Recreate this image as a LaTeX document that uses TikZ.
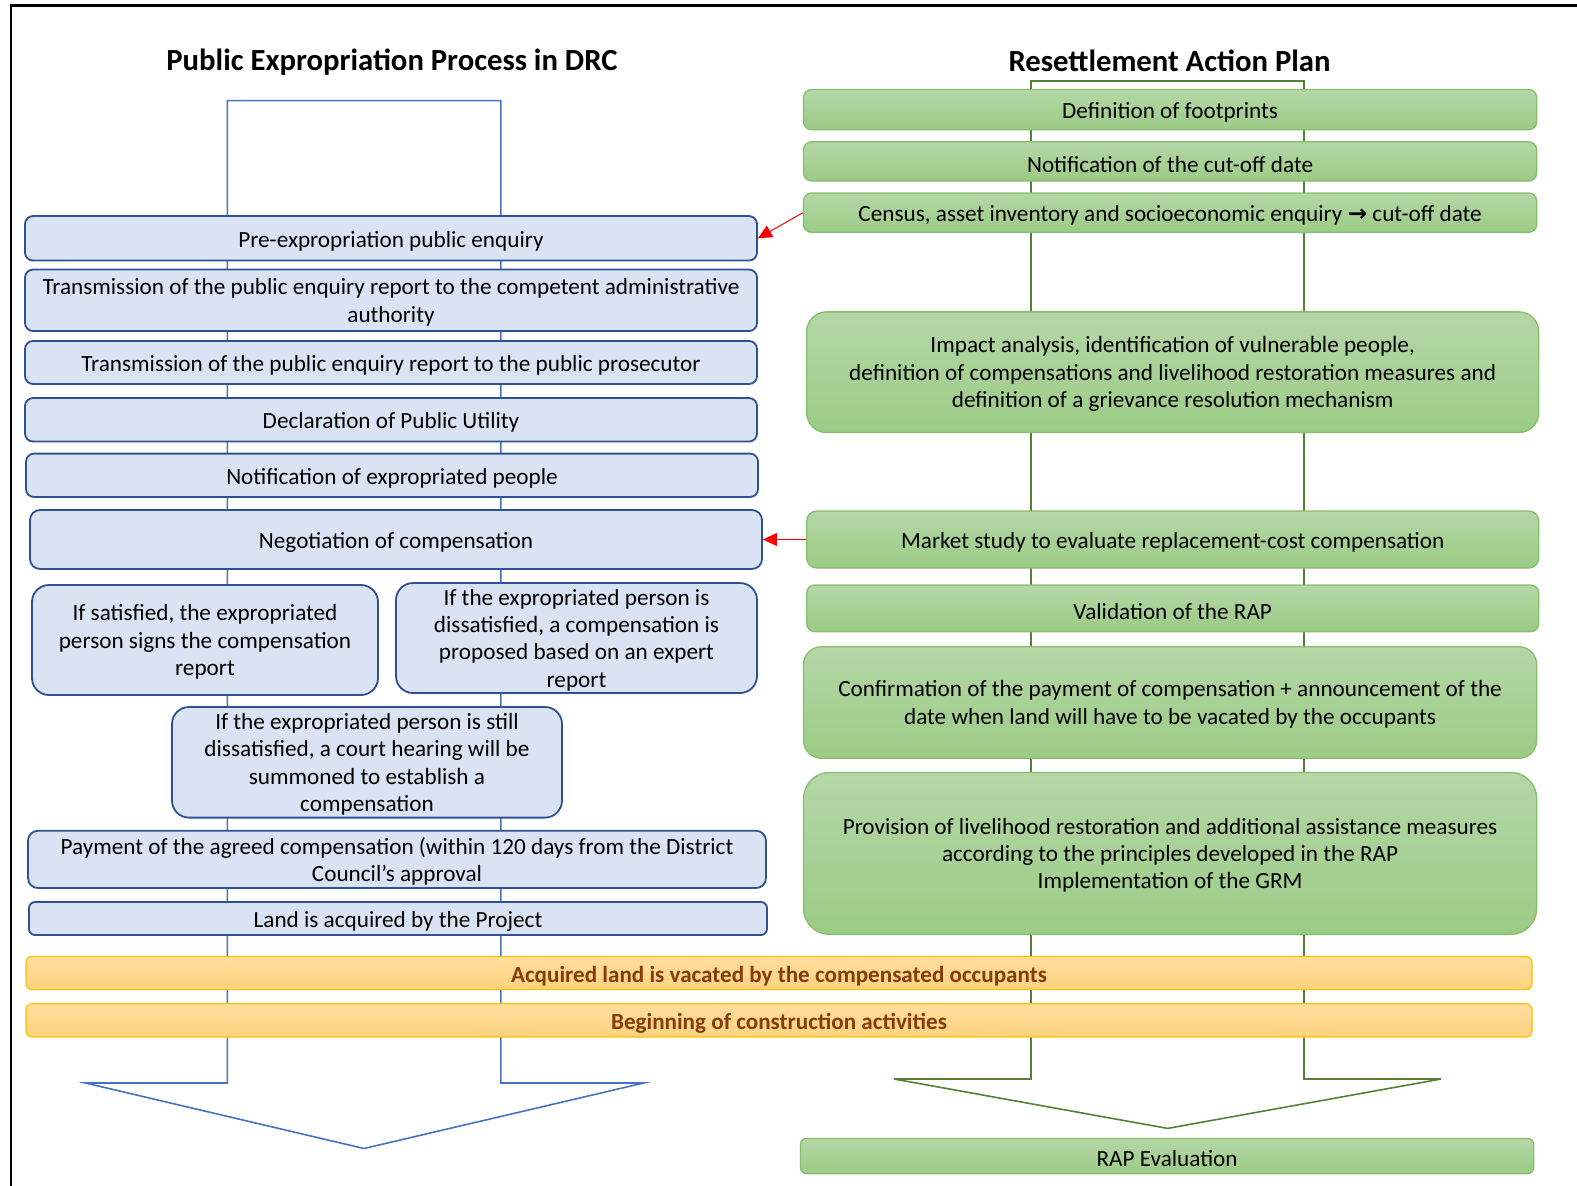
\documentclass[tikz,border=0pt]{standalone}
\usepackage{fontspec}
\setmainfont{Carlito}
\newfontfamily\arrowfont{DejaVu Sans}
\usetikzlibrary{arrows.meta,positioning}
\definecolor{procfill}{HTML}{DAE3F3}
\definecolor{procline}{HTML}{2F528F}
\definecolor{procarrow}{HTML}{4472C4}
\definecolor{raptop}{HTML}{B5D7A7}
\definecolor{rapbottom}{HTML}{9BCB85}
\definecolor{rapline}{HTML}{88BD6C}
\definecolor{raparrow}{HTML}{548235}
\definecolor{bartop}{HTML}{FFDE9E}
\definecolor{barbottom}{HTML}{FFD27E}
\definecolor{barline}{HTML}{FFC000}
\definecolor{bartext}{HTML}{843C0C}

\begin{document}
\begin{tikzpicture}[x=1pt,y=-1pt,
      txt/.style={font=\fontsize{23.2}{27.3}\selectfont, execute at begin node={\rule{0pt}{0.95em}}},
      multi/.style={text depth=-1pt},
      title/.style={font=\fontsize{30.7}{34}\selectfont\bfseries},
      procbox/.style={rectangle, draw=procline, fill=procfill, line width=1.8pt, rounded corners=8pt, align=center, inner sep=2pt, txt},
      rapbox/.style={rectangle, draw=rapline, top color=raptop, bottom color=rapbottom, line width=1.3pt, rounded corners=8pt, align=center, inner sep=2pt, txt},
      barbox/.style={rectangle, draw=barline, top color=bartop, bottom color=barbottom, line width=1.2pt, rounded corners=6pt, align=center, inner sep=2pt, txt, text=bartext, font=\fontsize{23.1}{27.3}\selectfont\bfseries},
      pfeil/.style={draw=red, line width=1pt, -{Triangle[length=14pt,width=13pt,fill=red]}}]

\useasboundingbox (0,0) rectangle (1577,1186);
\draw[line width=2.2pt] (11,1186) -- (11,5.5) -- (1577,5.5);

\node[title] (ltitle) at (392,62) {Public Expropriation Process in DRC};
\node[title] (rtitle) at (1169.6,61) {Resettlement Action Plan};

\draw[procarrow, line width=1.6pt, line join=miter]
  (227.3,1083) -- (227.3,100.6) -- (500.8,100.6) -- (500.8,1083)
  -- (643.6,1083) -- (364,1148.5) -- (85.5,1083) -- cycle;
\draw[raparrow, line width=1.6pt, line join=miter]
  (1031,1079) -- (1031,81) -- (1304,81) -- (1304,1079)
  -- (1441,1079) -- (1167.6,1128.4) -- (894,1079) -- cycle;

\node[procbox, minimum width=732pt, minimum height=44.5pt] (p1) at (391,238.3) {Pre-expropriation public enquiry};
\node[procbox, multi, minimum width=732pt, minimum height=61.5pt] (p2) at (391,300.3) {Transmission of the public enquiry report to the competent administrative\\authority};
\node[procbox, minimum width=732pt, minimum height=43pt] (p3) at (391,362.5) {Transmission of the public enquiry report to the public prosecutor};
\node[procbox, minimum width=732pt, minimum height=43.5pt] (p4) at (391,419.8) {Declaration of Public Utility};
\node[procbox, minimum width=732pt, minimum height=43.4pt] (p5) at (392,475.3) {Notification of expropriated people};
\node[procbox, minimum width=732pt, minimum height=59pt, rounded corners=10pt] (p6) at (396,539.5) {Negotiation of compensation};
\node[procbox, multi, minimum width=346pt, minimum height=110pt, rounded corners=17pt] (p7) at (205,640) {If satisfied, the expropriated\\person signs the compensation\\report};
\node[procbox, multi, minimum width=361pt, minimum height=110pt, rounded corners=17pt] (p8) at (576.5,638) {If the expropriated person is\\dissatisfied, a compensation is\\proposed based on an expert\\report};
\node[procbox, multi, minimum width=390pt, minimum height=110.6pt, rounded corners=17pt] (p9) at (367,762.3) {If the expropriated person is still\\dissatisfied, a court hearing will be\\summoned to establish a\\compensation};
\node[procbox, multi, minimum width=738pt, minimum height=57.3pt, rounded corners=10pt] (p10) at (397,859.4) {Payment of the agreed compensation (within 120 days from the District\\Council’s approval};
\node[procbox, minimum width=738pt, minimum height=33pt, rounded corners=6pt] (p11) at (398,918.5) {Land is acquired by the Project};

\node[rapbox, minimum width=733.2pt, minimum height=40.2pt] (r1) at (1170.1,109.6) {Definition of footprints};
\node[rapbox, minimum width=733.2pt, minimum height=39.2pt] (r2) at (1170.1,161.4) {Notification of the cut-off date};
\node[rapbox, minimum width=733.2pt, minimum height=39.3pt] (r3) at (1170.1,212.7) {Census, asset inventory and socioeconomic enquiry {\arrowfont\bfseries →} cut-off date};
\node[rapbox, multi, minimum width=732.1pt, minimum height=120.7pt, rounded corners=20pt] (r4) at (1172.7,372.2) {Impact analysis, identification of vulnerable people,\\definition of compensations and livelihood restoration measures and\\definition of a grievance resolution mechanism};
\node[rapbox, minimum width=732.1pt, minimum height=57pt, rounded corners=10pt] (r5) at (1172.7,539.5) {Market study to evaluate replacement-cost compensation};
\node[rapbox, minimum width=732.1pt, minimum height=46.6pt] (r6) at (1172.7,608.3) {Validation of the RAP};
\node[rapbox, multi, minimum width=733.2pt, minimum height=111.6pt, rounded corners=18pt] (r7) at (1170.1,702.5) {Confirmation of the payment of compensation + announcement of the\\date when land will have to be vacated by the occupants};
\node[rapbox, multi, minimum width=733.2pt, minimum height=161.9pt, rounded corners=26pt] (r8) at (1170.1,853.4) {Provision of livelihood restoration and additional assistance measures\\according to the principles developed in the RAP\\Implementation of the GRM};
\node[rapbox, minimum width=733.2pt, minimum height=35.2pt, rounded corners=6pt] (r9) at (1167.1,1156) {RAP Evaluation};

\node[barbox, minimum width=1506pt, minimum height=33.2pt] (b1) at (779,973) {Acquired land is vacated by the compensated occupants};
\node[barbox, minimum width=1506pt, minimum height=33.3pt] (b2) at (779,1020.4) {Beginning of construction activities};

\draw[pfeil] (r3.west) -- (p1.east);
\draw[pfeil] (r5.west) -- (p6.east);

\end{tikzpicture}
\end{document}
